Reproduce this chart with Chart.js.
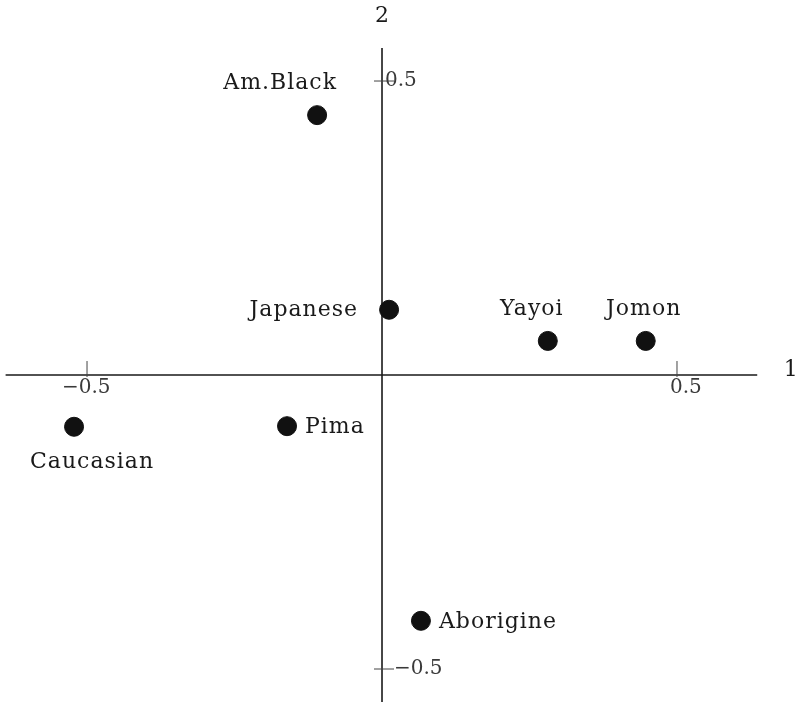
<!DOCTYPE html>
<html>
<head>
<meta charset="utf-8">
<script src="https://cdn.jsdelivr.net/npm/chart.js@4.4.0/dist/chart.umd.min.js"></script>
<style>
  html, body { margin: 0; padding: 0; background: #fff; }
  #wrap { width: 799px; height: 706px; position: relative; }
</style>
</head>
<body>
<div id="wrap"><canvas id="scatterChart"></canvas></div>
<script>
// Data (axis 1 = x, axis 2 = y)
const groups = ['Am.Black', 'Japanese', 'Yayoi', 'Jomon', 'Caucasian', 'Pima', 'Aborigine'];
const dim1 = [-0.110, 0.012, 0.281, 0.447, -0.522, -0.161, 0.066];
const dim2 = [0.442, 0.111, 0.058, 0.058, -0.088, -0.087, -0.418];
const tickValues = [-0.5, 0.5];
const tickLabels = ['\u22120.5', '0.5'];
const axisTitles = ['1', '2'];

// where each name sits relative to its dot
const labelSide = {
    'Am.Black': 'above', 'Japanese': 'left', 'Yayoi': 'above', 'Jomon': 'above',
    'Caucasian': 'below', 'Pima': 'right', 'Aborigine': 'right'
};

const FONT = '"DejaVu Serif", serif';
const INK = '#1a1a1a';

const points = dim1.map((x, i) => ({ x: x, y: dim2[i] }));

// draws the crossing axes, ticks, tick labels and point names
const crossAxes = {
    id: 'crossAxes',
    beforeDatasetsDraw(chart) {
        const ctx = chart.ctx;
        const xs = chart.scales.x;
        const ys = chart.scales.y;
        const x0 = xs.getPixelForValue(0);
        const y0 = ys.getPixelForValue(0);

        ctx.save();
        ctx.strokeStyle = INK;
        ctx.lineWidth = 1.6;
        ctx.beginPath();
        ctx.moveTo(xs.getPixelForValue(-0.638), y0);
        ctx.lineTo(xs.getPixelForValue(0.636), y0);
        ctx.moveTo(x0, ys.getPixelForValue(0.556));
        ctx.lineTo(x0, ys.getPixelForValue(-0.556));
        ctx.stroke();

        ctx.lineWidth = 1;
        ctx.strokeStyle = '#444';
        ctx.fillStyle = '#3a3a3a';
        ctx.font = '20px ' + FONT;
        ctx.textBaseline = 'middle';
        tickValues.forEach((v, i) => {
            const px = xs.getPixelForValue(v);
            const py = ys.getPixelForValue(v);
            // x ticks
            ctx.beginPath();
            ctx.moveTo(px, y0 - 14);
            ctx.lineTo(px, y0 + 2);
            ctx.stroke();
            ctx.textAlign = 'left';
            ctx.fillText(tickLabels[i], v < 0 ? px - 25 : px - 7, y0 + 13);
            // y ticks
            ctx.beginPath();
            ctx.moveTo(x0 - 8, py);
            ctx.lineTo(x0 + 12, py);
            ctx.stroke();
            ctx.fillText(tickLabels[i], v < 0 ? x0 + 12 : x0 + 3, py);
        });

        ctx.fillStyle = INK;
        ctx.font = '22px ' + FONT;
        ctx.textAlign = 'center';
        ctx.fillText(axisTitles[0], xs.getPixelForValue(0.693), y0 - 5);
        ctx.fillText(axisTitles[1], x0, ys.getPixelForValue(0.610));
        ctx.restore();
    },
    afterDatasetsDraw(chart) {
        const ctx = chart.ctx;
        const meta = chart.getDatasetMeta(0);
        ctx.save();
        ctx.fillStyle = INK;
        ctx.font = '22px ' + FONT;
        ctx.letterSpacing = '1px';
        meta.data.forEach((pt, i) => {
            const name = groups[i];
            const side = labelSide[name];
            if (side === 'above') {
                ctx.textAlign = 'center';
                ctx.textBaseline = 'alphabetic';
                const dx = name === 'Am.Black' ? -37 : (name === 'Yayoi' ? -16 : -2);
                ctx.fillText(name, pt.x + dx, pt.y - 26);
            } else if (side === 'below') {
                ctx.textAlign = 'center';
                ctx.textBaseline = 'alphabetic';
                ctx.fillText(name, pt.x + 18, pt.y + 41);
            } else if (side === 'left') {
                ctx.textAlign = 'right';
                ctx.textBaseline = 'middle';
                ctx.fillText(name, pt.x - 31, pt.y + 1);
            } else {
                ctx.textAlign = 'left';
                ctx.textBaseline = 'middle';
                ctx.fillText(name, pt.x + 18, pt.y + 1);
            }
        });
        ctx.restore();
    }
};

new Chart(document.getElementById('scatterChart'), {
    type: 'scatter',
    data: {
        datasets: [{
            label: 'groups',
            data: points,
            backgroundColor: '#111',
            borderColor: '#111',
            pointRadius: 9.5,
            pointHoverRadius: 9.5
        }]
    },
    options: {
        responsive: true,
        maintainAspectRatio: false,
        animation: false,
        layout: { padding: 0, autoPadding: false },
        plugins: {
            legend: { display: false },
            tooltip: { enabled: false }
        },
        scales: {
            x: { type: 'linear', display: false, min: -0.6475, max: 0.7068 },
            y: { type: 'linear', display: false, min: -0.5629, max: 0.6378 }
        }
    },
    plugins: [crossAxes]
});
</script>
</body>
</html>
